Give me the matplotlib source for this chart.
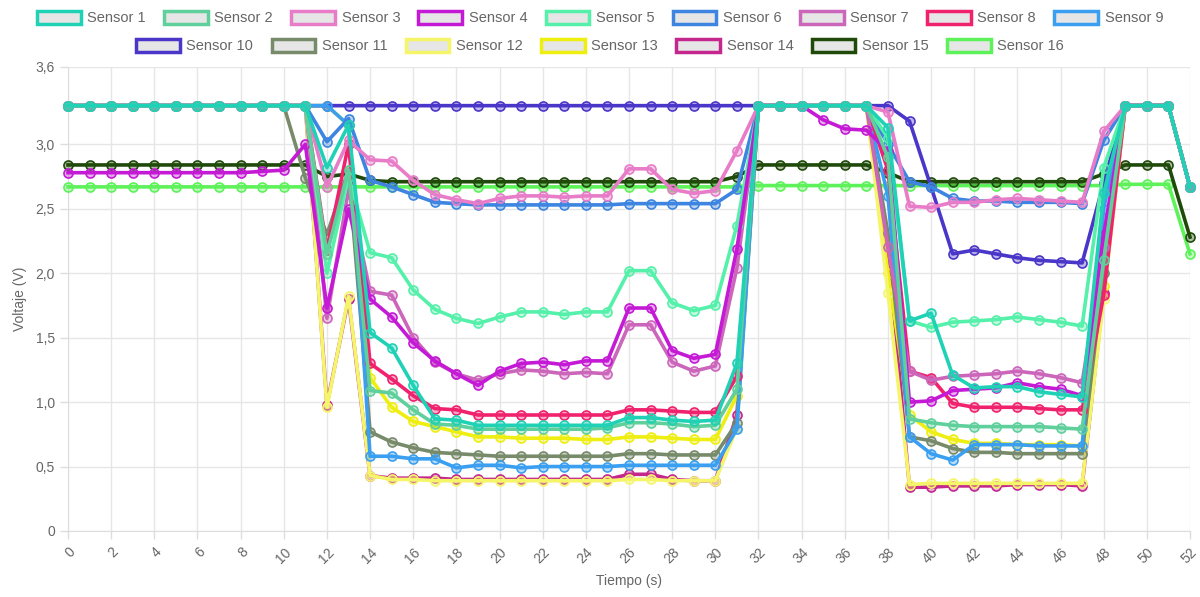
import matplotlib
matplotlib.use("Agg")
from matplotlib import pyplot as plt
from matplotlib.patches import Patch

plt.rcParams['font.family'] = ['Liberation Sans', 'DejaVu Sans']

tiempo = list(range(53))
x_ticks = list(range(0, 53, 2))
y_ticks = [0, 0.5, 1.0, 1.5, 2.0, 2.5, 3.0, 3.6]
y_labels = ['0', '0,5', '1,0', '1,5', '2,0', '2,5', '3,0', '3,6']

nombres = ['Sensor %d' % i for i in range(1, 17)]
colores = ['#1fd1b5', '#5fcf9c', '#e87cc8', '#c41ad6', '#55f0aa', '#3d85e0',
           '#cc66bb', '#f0226e', '#3a9ff0', '#4a36c8', '#778a6a', '#f5f56a',
           '#eeee10', '#c4288e', '#1f4a0a', '#5ef25a']

s1 = [3.3, 3.3, 3.3, 3.3, 3.3, 3.3, 3.3, 3.3, 3.3, 3.3, 3.3, 3.3,
      2.82, 3.15, 1.54, 1.42, 1.13, 0.87, 0.86, 0.82, 0.82, 0.82, 0.82, 0.82, 0.82, 0.82,
      0.88, 0.88, 0.86, 0.85, 0.86, 1.30,
      3.3, 3.3, 3.3, 3.3, 3.3, 3.3,
      3.13, 1.63, 1.69, 1.21, 1.11, 1.12, 1.12, 1.08, 1.06, 1.04, 2.62,
      3.3, 3.3, 3.3, 2.67]
s2 = [3.3, 3.3, 3.3, 3.3, 3.3, 3.3, 3.3, 3.3, 3.3, 3.3, 3.3, 3.3,
      2.15, 2.80, 1.09, 1.07, 0.94, 0.83, 0.82, 0.79, 0.79, 0.79, 0.79, 0.79, 0.79, 0.80,
      0.84, 0.84, 0.83, 0.81, 0.82, 1.10,
      3.3, 3.3, 3.3, 3.3, 3.3, 3.3,
      2.90, 0.87, 0.84, 0.82, 0.81, 0.81, 0.81, 0.81, 0.80, 0.79, 2.10,
      3.3, 3.3, 3.3, 2.67]
s3 = [3.3, 3.3, 3.3, 3.3, 3.3, 3.3, 3.3, 3.3, 3.3, 3.3, 3.3, 3.3,
      2.67, 3.03, 2.88, 2.87, 2.72, 2.61, 2.57, 2.54, 2.58, 2.60, 2.60, 2.59, 2.60, 2.60,
      2.81, 2.81, 2.65, 2.62, 2.64, 2.95,
      3.3, 3.3, 3.3, 3.3, 3.3, 3.3,
      3.25, 2.52, 2.51, 2.55, 2.55, 2.57, 2.58, 2.57, 2.56, 2.55, 3.10,
      3.3, 3.3, 3.3, 2.67]
s4 = [2.78, 2.78, 2.78, 2.78, 2.78, 2.78, 2.78, 2.78, 2.78, 2.79, 2.80, 3.00,
      1.73, 2.50, 1.80, 1.66, 1.46, 1.32, 1.22, 1.13, 1.24, 1.30, 1.31, 1.29, 1.32, 1.32,
      1.73, 1.73, 1.40, 1.34, 1.37, 2.19,
      3.3, 3.3, 3.3, 3.19, 3.12, 3.11,
      2.95, 1.00, 1.01, 1.09, 1.10, 1.11, 1.15, 1.12, 1.10, 1.05, 2.30,
      3.3, 3.3, 3.3, 2.67]
s5 = [3.3, 3.3, 3.3, 3.3, 3.3, 3.3, 3.3, 3.3, 3.3, 3.3, 3.3, 3.3,
      2.00, 2.75, 2.16, 2.12, 1.87, 1.72, 1.65, 1.61, 1.66, 1.70, 1.70, 1.68, 1.70, 1.70,
      2.02, 2.02, 1.77, 1.71, 1.75, 2.37,
      3.3, 3.3, 3.3, 3.3, 3.3, 3.3,
      3.05, 1.63, 1.58, 1.62, 1.63, 1.64, 1.66, 1.64, 1.62, 1.59, 2.82,
      3.3, 3.3, 3.3, 2.67]
s6 = [3.3, 3.3, 3.3, 3.3, 3.3, 3.3, 3.3, 3.3, 3.3, 3.3, 3.3, 3.3,
      3.02, 3.20, 2.72, 2.67, 2.61, 2.55, 2.54, 2.53, 2.53, 2.53, 2.53, 2.53, 2.53, 2.53,
      2.54, 2.54, 2.54, 2.54, 2.54, 2.65,
      3.3, 3.3, 3.3, 3.3, 3.3, 3.3,
      3.00, 2.71, 2.67, 2.58, 2.56, 2.56, 2.55, 2.55, 2.55, 2.54, 3.03,
      3.3, 3.3, 3.3, 2.67]
s7 = [3.3, 3.3, 3.3, 3.3, 3.3, 3.3, 3.3, 3.3, 3.3, 3.3, 3.3, 3.3,
      1.65, 2.65, 1.86, 1.83, 1.50, 1.31, 1.22, 1.17, 1.22, 1.25, 1.24, 1.22, 1.23, 1.22,
      1.60, 1.60, 1.31, 1.24, 1.28, 2.04,
      3.3, 3.3, 3.3, 3.3, 3.3, 3.3,
      2.20, 1.24, 1.17, 1.20, 1.21, 1.22, 1.24, 1.22, 1.19, 1.15, 2.20,
      3.3, 3.3, 3.3, 2.67]
s8 = [3.3, 3.3, 3.3, 3.3, 3.3, 3.3, 3.3, 3.3, 3.3, 3.3, 3.3, 3.3,
      2.18, 3.00, 1.30, 1.18, 1.05, 0.95, 0.94, 0.90, 0.90, 0.90, 0.90, 0.90, 0.90, 0.90,
      0.94, 0.94, 0.93, 0.92, 0.92, 1.20,
      3.3, 3.3, 3.3, 3.3, 3.3, 3.3,
      2.80, 1.24, 1.19, 0.99, 0.96, 0.96, 0.96, 0.95, 0.94, 0.94, 1.83,
      3.3, 3.3, 3.3, 2.67]
s9 = [3.3, 3.3, 3.3, 3.3, 3.3, 3.3, 3.3, 3.3, 3.3, 3.3, 3.3, 3.3,
      3.3, 3.15, 0.58, 0.58, 0.56, 0.56, 0.49, 0.51, 0.51, 0.49, 0.50, 0.50, 0.50, 0.50,
      0.51, 0.51, 0.51, 0.51, 0.51, 0.79,
      3.3, 3.3, 3.3, 3.3, 3.3, 3.3,
      2.60, 0.73, 0.60, 0.55, 0.67, 0.67, 0.67, 0.66, 0.66, 0.66, 2.50,
      3.3, 3.3, 3.3, 2.67]
s10 = [3.3, 3.3, 3.3, 3.3, 3.3, 3.3, 3.3, 3.3, 3.3, 3.3, 3.3, 3.3,
       3.3, 3.3, 3.3, 3.3, 3.3, 3.3, 3.3, 3.3, 3.3, 3.3, 3.3, 3.3, 3.3, 3.3,
       3.3, 3.3, 3.3, 3.3, 3.3, 3.3,
       3.3, 3.3, 3.3, 3.3, 3.3, 3.3,
       3.3, 3.18, 2.67, 2.15, 2.18, 2.15, 2.12, 2.10, 2.09, 2.08, 2.70,
       3.3, 3.3, 3.3, 2.67]
s11 = [3.3, 3.3, 3.3, 3.3, 3.3, 3.3, 3.3, 3.3, 3.3, 3.3, 3.3, 2.74,
       2.30, 2.80, 0.77, 0.69, 0.645, 0.61, 0.60, 0.59, 0.58, 0.58, 0.58, 0.58, 0.58, 0.58,
       0.60, 0.60, 0.59, 0.59, 0.59, 0.84,
       3.3, 3.3, 3.3, 3.3, 3.3, 3.3,
       2.31, 0.73, 0.70, 0.64, 0.61, 0.61, 0.60, 0.60, 0.60, 0.60, 2.00,
       3.3, 3.3, 3.3, 2.67]
s12 = [3.3, 3.3, 3.3, 3.3, 3.3, 3.3, 3.3, 3.3, 3.3, 3.3, 3.3, 3.3,
       0.96, 1.82, 0.43, 0.40, 0.40, 0.39, 0.39, 0.39, 0.39, 0.39, 0.39, 0.39, 0.39, 0.39,
       0.40, 0.40, 0.39, 0.39, 0.39, 0.80,
       3.3, 3.3, 3.3, 3.3, 3.3, 3.3,
       1.85, 0.36, 0.37, 0.37, 0.37, 0.37, 0.37, 0.37, 0.37, 0.37, 1.80,
       3.3, 3.3, 3.3, 2.67]
s13 = [3.3, 3.3, 3.3, 3.3, 3.3, 3.3, 3.3, 3.3, 3.3, 3.3, 3.3, 3.3,
       3.3, 3.15, 1.19, 0.96, 0.85, 0.81, 0.77, 0.73, 0.73, 0.72, 0.72, 0.72, 0.71, 0.71,
       0.73, 0.73, 0.72, 0.71, 0.71, 1.05,
       3.3, 3.3, 3.3, 3.3, 3.3, 3.3,
       2.00, 0.90, 0.77, 0.71, 0.68, 0.68, 0.67, 0.67, 0.67, 0.66, 1.90,
       3.3, 3.3, 3.3, 2.67]
s14 = [3.3, 3.3, 3.3, 3.3, 3.3, 3.3, 3.3, 3.3, 3.3, 3.3, 3.3, 3.3,
       0.98, 1.80, 0.43, 0.41, 0.41, 0.41, 0.40, 0.40, 0.40, 0.40, 0.40, 0.40, 0.40, 0.40,
       0.44, 0.44, 0.40, 0.39, 0.39, 0.90,
       3.3, 3.3, 3.3, 3.3, 3.3, 3.3,
       2.20, 0.34, 0.34, 0.35, 0.35, 0.35, 0.36, 0.36, 0.36, 0.35, 1.85,
       3.3, 3.3, 3.3, 2.67]
s15 = [2.84, 2.84, 2.84, 2.84, 2.84, 2.84, 2.84, 2.84, 2.84, 2.84, 2.84, 2.84,
       2.75, 2.77, 2.72, 2.71, 2.71, 2.71, 2.71, 2.71, 2.71, 2.71, 2.71, 2.71, 2.71, 2.71,
       2.71, 2.71, 2.71, 2.71, 2.71, 2.75,
       2.84, 2.84, 2.84, 2.84, 2.84, 2.84,
       2.78, 2.71, 2.71, 2.71, 2.71, 2.71, 2.71, 2.71, 2.71, 2.71, 2.77,
       2.84, 2.84, 2.84, 2.28]
s16 = [2.67, 2.67, 2.67, 2.67, 2.67, 2.67, 2.67, 2.67, 2.67, 2.67, 2.67, 2.67,
       2.67, 2.67, 2.67, 2.67, 2.67, 2.67, 2.67, 2.67, 2.67, 2.67, 2.67, 2.67, 2.67, 2.67,
       2.67, 2.67, 2.67, 2.67, 2.67, 2.67,
       2.68, 2.68, 2.68, 2.68, 2.68, 2.68,
       2.68, 2.68, 2.68, 2.68, 2.68, 2.68, 2.68, 2.68, 2.68, 2.68, 2.68,
       2.69, 2.69, 2.69, 2.15]

series = [s1, s2, s3, s4, s5, s6, s7, s8, s9, s10, s11, s12, s13, s14, s15, s16]

fig = plt.figure(figsize=(12, 5.97), dpi=100)
ax = fig.add_axes([68 / 1200, 1 - 531 / 597, (1190 - 68) / 1200, (531 - 67) / 597])

# first dataset drawn on top, like chart.js
for i, (nombre, col, ys) in enumerate(zip(nombres, colores, series)):
    ax.plot(tiempo, ys, color=col, lw=2.6, marker='o', ms=6.5, mew=1.2,
            mec=col, mfc=matplotlib.colors.to_rgba(col, 0.35),
            zorder=40 - i, clip_on=False, label=nombre)

ax.set_xlim(0, 52)
ax.set_ylim(0, 3.6)
ax.set_xticks(x_ticks)
ax.set_xticklabels([str(t) for t in x_ticks], rotation=45, ha='right',
                   va='top', rotation_mode='anchor')
ax.set_yticks(y_ticks)
ax.set_yticklabels(y_labels)
ax.grid(True, color='#e6e6e6', lw=1)
ax.set_axisbelow(True)
ax.tick_params(axis='both', colors='#dddddd', labelcolor='#666666',
               labelsize=10, length=6, width=1)
ax.tick_params(axis='x', pad=4)
for s in ['top', 'right']:
    ax.spines[s].set_visible(False)
for s in ['left', 'bottom']:
    ax.spines[s].set_color('#dddddd')

ax.set_xlabel('Tiempo (s)', color='#666666', fontsize=10, labelpad=6)
ax.set_ylabel('Voltaje (V)', color='#666666', fontsize=10, labelpad=6)

handles = [Patch(facecolor='#e6e6e6', edgecolor=c, linewidth=2.5) for c in colores]
kw = dict(frameon=False, fontsize=10.5, handlelength=3.0, handleheight=1.0,
          handletextpad=0.45, columnspacing=1.25, labelcolor='#666666', loc='center')
fig.legend(handles[:9], nombres[:9], ncol=9, bbox_to_anchor=(0.5, 1 - 18 / 597), **kw)
fig.legend(handles[9:], nombres[9:], ncol=7, bbox_to_anchor=(0.5, 1 - 46 / 597), **kw)

plt.savefig("out.png", dpi=100)
